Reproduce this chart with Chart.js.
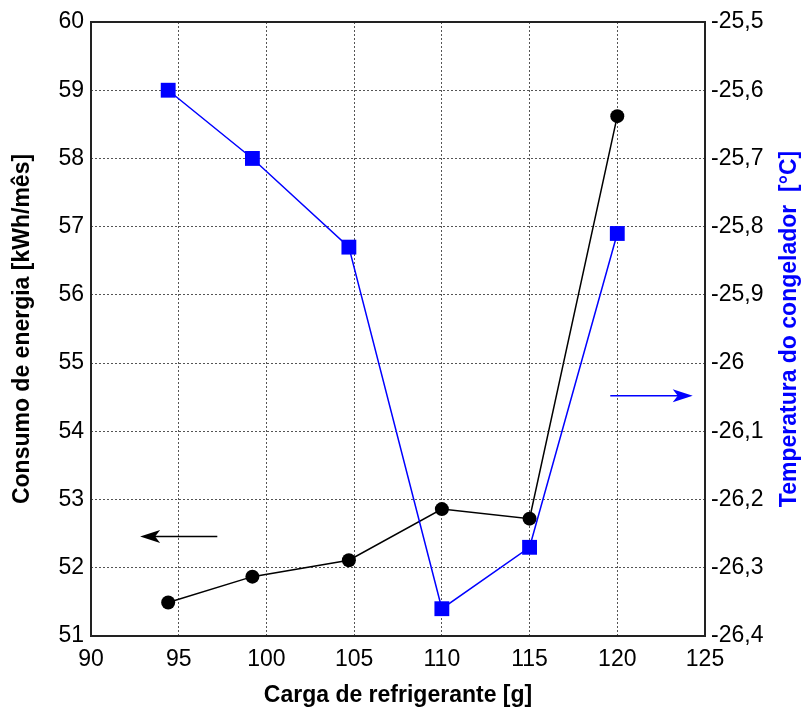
<!DOCTYPE html>
<html>
<head>
<meta charset="utf-8">
<script src="https://cdn.jsdelivr.net/npm/chart.js@4/dist/chart.umd.min.js"></script>
<style>
  html, body { margin: 0; padding: 0; background: #fff; }
  #wrap { width: 806px; height: 716px; }
</style>
</head>
<body>
<div id="wrap"><canvas id="c" width="806" height="716"></canvas></div>
<script>
// dados
const carga = [94.4, 99.2, 104.7, 110, 115, 120];
const consumo = [51.49, 51.87, 52.11, 52.86, 52.72, 58.62];
const temperatura = [-25.60, -25.70, -25.83, -26.36, -26.27, -25.81];

const xTicks = [90, 95, 100, 105, 110, 115, 120, 125];
const leftTicks = [51, 52, 53, 54, 55, 56, 57, 58, 59, 60];
const rightTicks = [-26.4, -26.3, -26.2, -26.1, -26, -25.9, -25.8, -25.7, -25.6, -25.5];

// setas indicando o eixo de cada série (em unidades dos dados)
const setaConsumo = { x0: 97.2, x1: 92.8, y: 52.46 };
const setaTemp = { x0: 119.6, x1: 124.3, y: -26.048 };

const BLUE = "#0000ff";
const GRID = "#555";
const FONT = "'Liberation Sans', Arial, sans-serif";
const TITULO_DIR = "Temperatura do congelador  [°C]";

const fmt = (v) => String(+v.toFixed(1)).replace(".", ",");

function drawArrow(ctx, x0, x1, y, color) {
  const dir = Math.sign(x1 - x0);
  const head = 20;
  ctx.save();
  ctx.strokeStyle = color;
  ctx.fillStyle = color;
  ctx.lineWidth = 1.5;
  ctx.beginPath();
  ctx.moveTo(x0, y);
  ctx.lineTo(x1 - dir * head * 0.6, y);
  ctx.stroke();
  ctx.beginPath();
  ctx.moveTo(x1, y);
  ctx.lineTo(x1 - dir * head, y - 6.5);
  ctx.lineTo(x1 - dir * head * 0.75, y);
  ctx.lineTo(x1 - dir * head, y + 6.5);
  ctx.closePath();
  ctx.fill();
  ctx.restore();
}

const extras = {
  id: "extras",
  afterDatasetsDraw(chart) {
    const { ctx, chartArea: a, scales } = chart;
    drawArrow(ctx, scales.x.getPixelForValue(setaConsumo.x0), scales.x.getPixelForValue(setaConsumo.x1),
      scales.y.getPixelForValue(setaConsumo.y), "#000");
    drawArrow(ctx, scales.x.getPixelForValue(setaTemp.x0), scales.x.getPixelForValue(setaTemp.x1),
      scales.y2.getPixelForValue(setaTemp.y), BLUE);
    ctx.save();
    ctx.strokeStyle = "#222";
    ctx.lineWidth = 2;
    ctx.strokeRect(a.left, a.top, a.right - a.left, a.bottom - a.top);
    // título do eixo direito, lido de baixo para cima
    ctx.translate(790, (a.top + a.bottom) / 2);
    ctx.rotate(-Math.PI / 2);
    ctx.fillStyle = BLUE;
    ctx.font = "bold 23px " + FONT;
    ctx.textAlign = "center";
    ctx.textBaseline = "middle";
    ctx.fillText(TITULO_DIR, 0, 0);
    ctx.restore();
  },
};

new Chart(document.getElementById("c"), {
  type: "line",
  data: {
    labels: carga,
    datasets: [
      {
        label: "Temperatura do congelador",
        data: carga.map((x, i) => ({ x, y: temperatura[i] })),
        yAxisID: "y2",
        borderColor: BLUE,
        backgroundColor: BLUE,
        borderWidth: 1.5,
        pointStyle: "rect",
        pointRadius: 10.5,
        pointBorderWidth: 0,
        tension: 0,
      },
      {
        label: "Consumo de energia",
        data: carga.map((x, i) => ({ x, y: consumo[i] })),
        yAxisID: "y",
        borderColor: "#000",
        backgroundColor: "#000",
        borderWidth: 1.5,
        pointStyle: "circle",
        pointRadius: 7,
        pointBorderWidth: 0,
        tension: 0,
      },
    ],
  },
  options: {
    responsive: false,
    animation: false,
    layout: { padding: { top: 22, left: 0, right: 0, bottom: 0 } },
    plugins: { legend: { display: false }, tooltip: { enabled: false } },
    scales: {
      x: {
        type: "linear",
        min: 90,
        max: 125,
        afterBuildTicks: (s) => { s.ticks = xTicks.map((v) => ({ value: v })); },
        afterFit: (s) => { s.height = 80; },
        ticks: { color: "#000", font: { family: FONT, size: 23 }, padding: 10 },
        grid: { color: GRID, lineWidth: 1, drawTicks: false },
        border: { display: false, dash: [2, 2] },
        title: {
          display: true,
          text: "Carga de refrigerante [g]",
          color: "#000",
          font: { family: FONT, size: 23, weight: "bold" },
          padding: { top: 0, bottom: 7 },
        },
      },
      y: {
        position: "left",
        min: 51,
        max: 60,
        afterBuildTicks: (s) => { s.ticks = leftTicks.map((v) => ({ value: v })); },
        afterFit: (s) => { s.width = 91; },
        ticks: { color: "#000", font: { family: FONT, size: 23 }, padding: 7 },
        grid: { color: GRID, lineWidth: 1, drawTicks: false },
        border: { display: false, dash: [2, 2] },
        title: {
          display: true,
          text: "Consumo de energia [kWh/mês]",
          color: "#000",
          font: { family: FONT, size: 23, weight: "bold" },
          padding: { bottom: 0, top: 9 },
        },
      },
      y2: {
        position: "right",
        min: -26.4,
        max: -25.5,
        afterBuildTicks: (s) => { s.ticks = rightTicks.map((v) => ({ value: v })); },
        afterFit: (s) => { s.width = 101; },
        ticks: { color: "#000", font: { family: FONT, size: 23 }, padding: 6, callback: fmt },
        grid: { display: false, drawTicks: false },
        border: { display: false },
        title: { display: false },
      },
    },
  },
  plugins: [extras],
});
</script>
</body>
</html>
